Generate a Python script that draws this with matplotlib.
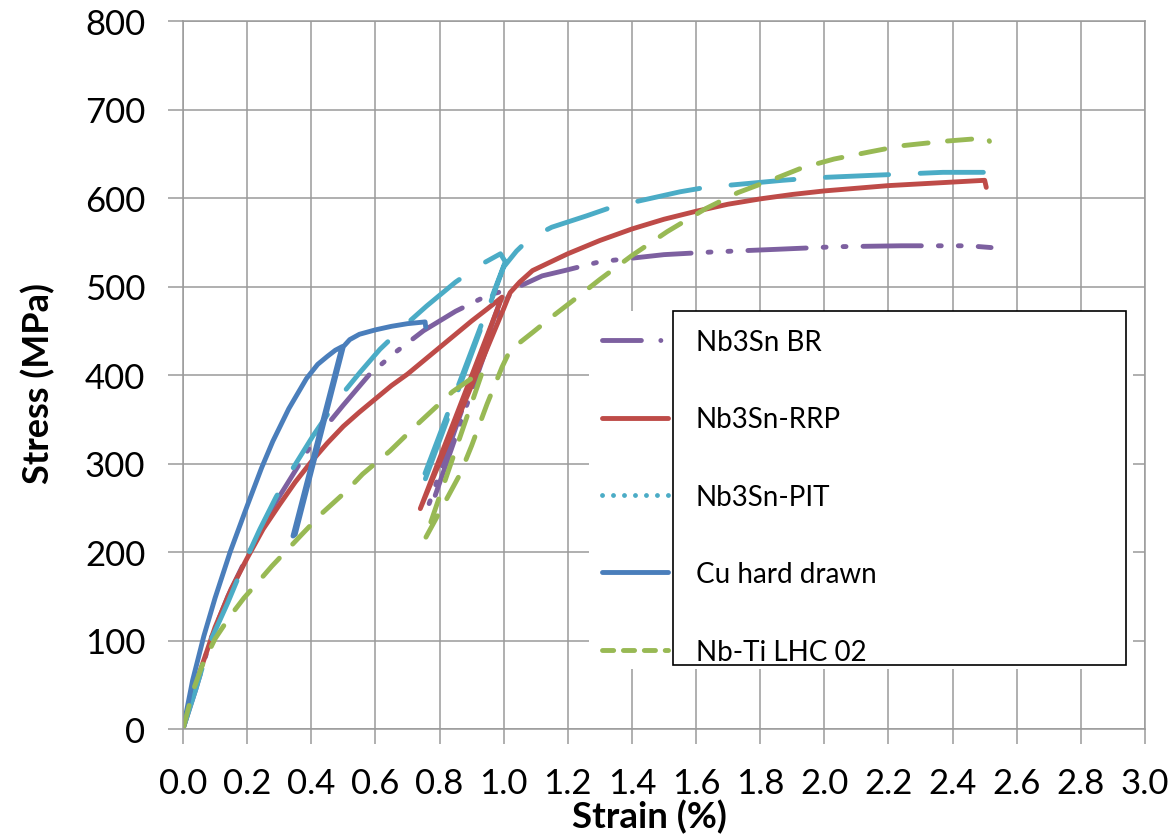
import matplotlib
matplotlib.use('Agg')
import matplotlib.pyplot as plt
from matplotlib.lines import Line2D
from matplotlib.patches import Rectangle

plt.rcParams['font.family'] = ['Lato', 'DejaVu Sans']

# Nb3Sn BR: load, unload, reload, go on
br_x = [0, 0.04, 0.085, 0.14, 0.2, 0.27, 0.33, 0.405, 0.5, 0.58, 0.66, 0.75, 0.85, 0.95, 1.0,
        0.765, 0.775, 0.99, 1.03, 1.12, 1.19, 1.3, 1.5, 1.65, 1.85, 2.04, 2.24, 2.45, 2.52]
br_y = [0, 45, 100, 150, 195, 245, 280, 324, 366, 400, 425, 450, 472, 490, 495,
        252, 252, 475, 497, 512, 518, 528, 536, 539, 542, 545, 546, 546, 544]

rrp_x = [0, 0.05, 0.1, 0.15, 0.2, 0.25, 0.3, 0.35, 0.4, 0.45, 0.5, 0.55, 0.6, 0.65, 0.7,
         0.75, 0.8, 0.85, 0.9, 0.95, 0.995,
         0.74, 1.0, 1.02, 1.05, 1.09, 1.2, 1.3, 1.4, 1.5, 1.6, 1.7, 1.8, 1.9, 2.0, 2.2,
         2.4, 2.5, 2.505]
rrp_y = [0, 62, 115, 158, 193, 226, 253, 279, 302, 323, 342, 358, 373, 388, 401,
         416, 431, 446, 461, 475, 488,
         249, 475, 493, 505, 518, 537, 552, 565, 576, 585, 593, 599, 604, 608, 614,
         618, 620, 612]

pit_x = [0, 0.04, 0.084, 0.14, 0.193, 0.24, 0.29, 0.34, 0.405, 0.45, 0.5, 0.552, 0.614,
         0.66, 0.698, 0.76, 0.85, 0.93, 0.99, 1.005, 0.735, 0.745, 1.0, 1.04, 1.08, 1.15,
         1.26, 1.34, 1.55, 1.63, 1.87, 1.98, 2.24, 2.37, 2.51, 2.515]
pit_y = [0, 45, 98, 143, 189, 226, 262, 293, 331, 355, 380, 403, 429,
         445, 458, 478, 505, 525, 537, 528, 270, 272, 522, 540, 554, 567,
         580, 590, 607, 612, 620, 623, 627, 629, 629, 623]

cu_x = [0, 0.03, 0.065, 0.1, 0.147, 0.2, 0.245, 0.28, 0.33, 0.385, 0.42, 0.45, 0.475, 0.496,
        0.343, 0.35, 0.5, 0.52, 0.55, 0.6, 0.65, 0.7, 0.755, 0.757]
cu_y = [0, 55, 105, 148, 200, 252, 295, 325, 362, 396, 412, 421, 428, 432,
        218, 220, 432, 440, 446, 451, 455, 458, 460, 454]

nbti_x = [0, 0.03, 0.06, 0.1, 0.15, 0.19, 0.234, 0.277, 0.324, 0.371, 0.437, 0.51, 0.56,
          0.645, 0.733, 0.84, 0.935, 0.755, 0.8, 0.864, 0.9, 0.948, 0.995, 1.02, 1.09,
          1.155, 1.23, 1.3, 1.4, 1.51, 1.63, 1.73, 1.84, 1.93, 2.03, 2.14, 2.24, 2.37,
          2.51, 2.515]
nbti_y = [0, 42, 72, 102, 129, 148, 166, 184, 202, 220, 245, 269, 288,
          314, 345, 381, 405, 215, 245, 288, 320, 367, 409, 428, 448,
          467, 488, 508, 535, 562, 588, 606, 621, 634, 644, 652, 659, 664,
          668, 664]

labels = ['Nb3Sn BR', 'Nb3Sn-RRP', 'Nb3Sn-PIT', 'Cu hard drawn', 'Nb-Ti LHC 02']
colors = ['#7D60A0', '#BE4B48', '#4BACC6', '#4A7EBB', '#98B954']
plot_dashes = [(12, 3.5, 0.6, 3.5, 0.6, 3.5), None, (13, 6.5), None, (5, 4)]
legend_dashes = [(8, 4, 0.01, 4), None, (0.01, 2.25), None, (2.3, 2.0)]
series = [(br_x, br_y), (rrp_x, rrp_y), (pit_x, pit_y), (cu_x, cu_y), (nbti_x, nbti_y)]

W, H = 1176, 837
fig = plt.figure(figsize=(W / 100, H / 100), dpi=100)
ax = fig.add_axes([183 / W, 1 - 730 / H, 962 / W, 708 / H])

lw = 3.5
for (x, y), col, d in zip(series, colors, plot_dashes):
    if d is None:
        ax.plot(x, y, color=col, lw=lw, solid_capstyle='round', solid_joinstyle='round')
    else:
        ax.plot(x, y, color=col, lw=lw, dashes=d, dash_capstyle='round',
                dash_joinstyle='round')

ax.set_xlim(0, 3)
ax.set_ylim(0, 800)
ax.set_xticks([i * 0.2 for i in range(16)])
ax.set_xticklabels(['%.1f' % (i * 0.2) for i in range(16)])
ax.set_yticks(range(0, 801, 100))
grey = '#9A9A9A'
ax.grid(True, color=grey, lw=1.1)
ax.set_axisbelow(True)
for s in ax.spines.values():
    s.set_color(grey)
    s.set_linewidth(1.1)
ax.tick_params(axis='both', direction='out', length=11, width=1.1, color=grey,
               labelsize=25, labelcolor='black')
ax.tick_params(axis='x', pad=16)
ax.tick_params(axis='y', pad=16)

ax.set_xlabel('Strain (%)', fontsize=26.5, fontweight='bold')
ax.set_ylabel('Stress (MPa)', fontsize=26, fontweight='bold')
ax.xaxis.set_label_coords(0.485, -0.0985)
ax.yaxis.set_label_coords(-0.133, 0.49)

# legend: white area, handles outside the black text box
fig.add_artist(Rectangle((589 / W, 1 - 670 / H), (1133 - 589) / W, (670 - 312) / H,
                         transform=fig.transFigure, facecolor='white', edgecolor='none', zorder=2))
fig.add_artist(Rectangle((673 / W, 1 - 666 / H), (1126 - 673) / W, (666 - 312) / H,
                         transform=fig.transFigure, facecolor='white', edgecolor='black',
                         lw=1.2, zorder=3))
handles = []
for col, d in zip(colors, legend_dashes):
    if d is None:
        handles.append(Line2D([], [], color=col, lw=lw, solid_capstyle='round'))
    else:
        handles.append(Line2D([], [], color=col, lw=lw, dashes=d, dash_capstyle='round'))
leg = fig.legend(handles, labels, loc='upper left', bbox_to_anchor=(602 / W, 1 - 330 / H),
                 bbox_transform=fig.transFigure, frameon=False, fontsize=20,
                 handlelength=2.37, handletextpad=1.0, labelspacing=1.85,
                 borderpad=0, borderaxespad=0)
leg.set_zorder(5)

fig.savefig('out.png', dpi=100)
